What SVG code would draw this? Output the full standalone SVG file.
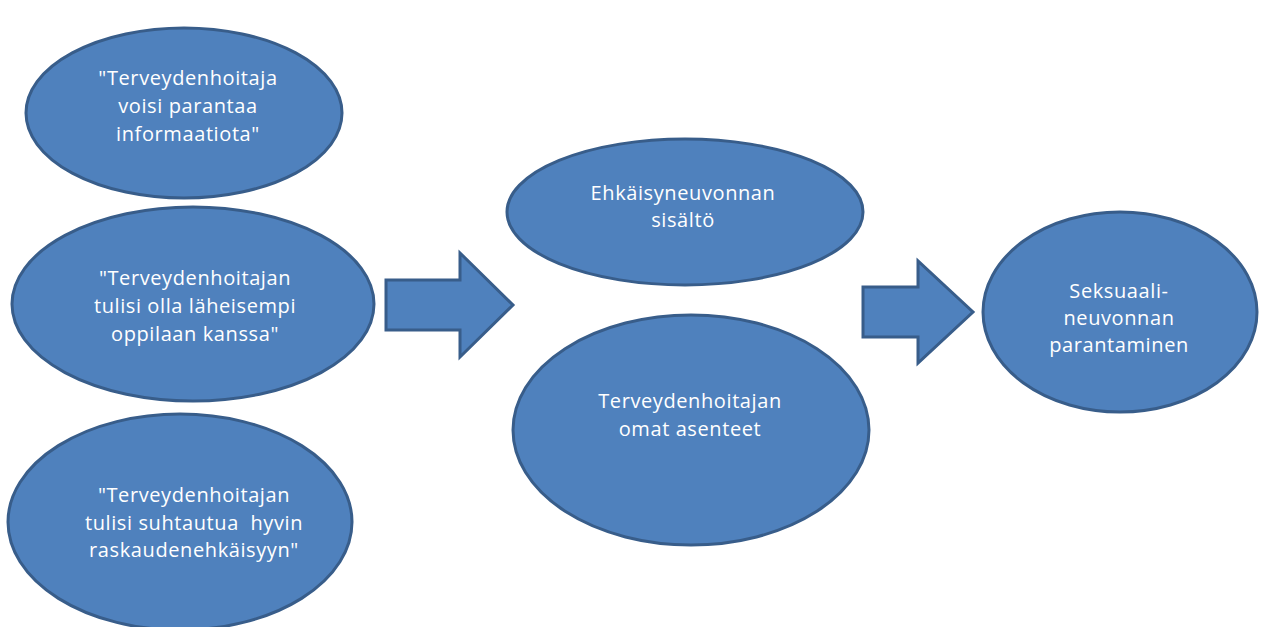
<svg xmlns="http://www.w3.org/2000/svg" width="1262" height="627" viewBox="0 0 1262 627">
<style>
.n ellipse{fill:#4F81BD;stroke:#385D8A;stroke-width:3}
.c path{fill:#4F81BD;stroke:#385D8A;stroke-width:3;stroke-linejoin:miter}
text{font-family:"Open Sans","Liberation Sans",Arial,sans-serif;font-size:20px;letter-spacing:0.6px;fill:#fff;text-anchor:middle;white-space:pre}
</style>
<rect width="1262" height="627" fill="#fff"/>
<g class="n" id="n1"><ellipse cx="184" cy="113" rx="158" ry="85"/>
<text x="188" y="85">"Terveydenhoitaja</text><text x="188" y="113">voisi parantaa</text><text x="188" y="141">informaatiota"</text></g>
<g class="n" id="n2"><ellipse cx="193" cy="304" rx="181" ry="97"/>
<text x="195" y="285">"Terveydenhoitajan</text><text x="195" y="313">tulisi olla läheisempi</text><text x="195" y="341">oppilaan kanssa"</text></g>
<g class="n" id="n3"><ellipse cx="180" cy="522" rx="172" ry="108"/>
<text x="194" y="502">"Terveydenhoitajan</text><text x="194" y="530" xml:space="preserve">tulisi suhtautua  hyvin</text><text x="194" y="557">raskaudenehkäisyyn"</text></g>
<g class="n" id="n4"><ellipse cx="685" cy="212" rx="178" ry="73"/>
<text x="683" y="200">Ehkäisyneuvonnan</text><text x="683" y="227">sisältö</text></g>
<g class="n" id="n5"><ellipse cx="691" cy="430" rx="178" ry="115"/>
<text x="690" y="408">Terveydenhoitajan</text><text x="690" y="436">omat asenteet</text></g>
<g class="n" id="n6"><ellipse cx="1120" cy="312" rx="137" ry="100"/>
<text x="1119" y="298">Seksuaali-</text><text x="1119" y="325">neuvonnan</text><text x="1119" y="352">parantaminen</text></g>
<g class="c" id="connectors">
<path d="M386 280 H460 V253 L513 305 L460 357 V330 H386 Z"/>
<path d="M863 287 H918 V261 L973 312 L918 363 V337 H863 Z"/>
</g>
</svg>
